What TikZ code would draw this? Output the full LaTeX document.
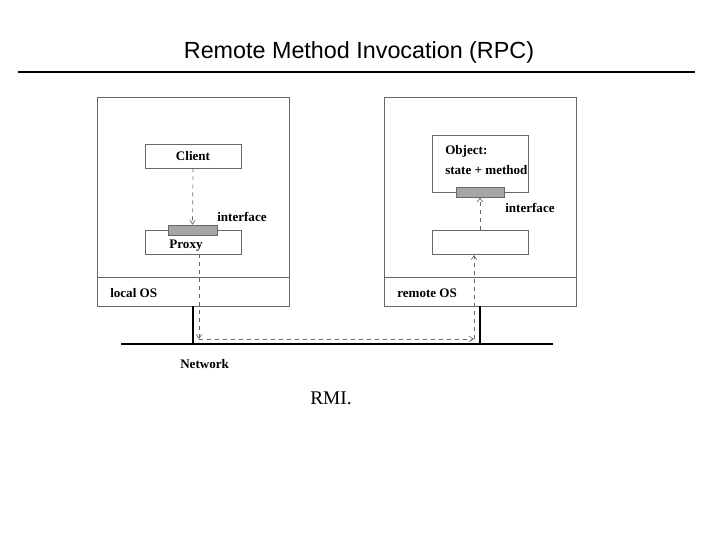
\documentclass[tikz,border=0pt]{standalone}
\usepackage{fontspec}
\setmainfont{Liberation Serif}
\setsansfont{Liberation Sans}
\usetikzlibrary{arrows.meta}
\begin{document}
\begin{tikzpicture}[x=0.75pt,y=-0.75pt,
  box/.style={draw=black!60,line width=0.6pt},
  lbl/.style={inner sep=0pt,font=\fontsize{9.8}{11}\selectfont\bfseries,anchor=west},
  bar/.style={draw=black!60,fill=black!35,line width=0.5pt},
  dsh/.style={draw=black!60,dashed,line width=0.5pt},
  arr/.style={-{Straight Barb[length=3pt,width=4pt]}}]
\useasboundingbox (0,0) rectangle (720,540);
\node[font=\sffamily\fontsize{17.5}{20}\selectfont] (title) at (359,52) {Remote Method Invocation (RPC)};
\draw[line width=2.2pt] (18,72) -- (695,72);
% machines
\draw[box] (97,97) rectangle (289,306);
\draw[box] (97,277) -- (289,277);
\draw[box] (384,97) rectangle (576,306);
\draw[box] (384,277) -- (576,277);
\node[lbl] (los) at (110,293) {local OS};
\node[lbl] (ros) at (397,293) {remote OS};
% client side
\node[box,minimum width=72pt,minimum height=18pt,inner sep=0pt] (client) at (193,156) {};
\node[lbl,anchor=center] at (193,156) {Client};
\node[box,minimum width=72pt,minimum height=18pt,inner sep=0pt] (proxy) at (193,242) {};
\node[lbl,anchor=center] at (186,246) {Proxy};
\node[bar,minimum width=36.5pt,minimum height=7.5pt,inner sep=0pt] (pbar) at (192.5,230) {};
\node[lbl] (if1) at (217,217) {interface};
\draw[dsh,arr] (client.south) -- (pbar.north);
% server side
\draw[box] (432,135) rectangle (528,192);
\node[lbl] (obj) at (445,151) {Object:};
\node[lbl] (sm) at (445,170) {state + method};
\node[bar,minimum width=36pt,minimum height=7.5pt,inner sep=0pt] (sbar) at (480,192) {};
\node[box,minimum width=72pt,minimum height=18pt,inner sep=0pt] (skel) at (480,242) {};
\node[lbl] (if2) at (505,208) {interface};
\draw[dsh,arr] (skel.north) -- (sbar.south);
% network
\draw[line width=1pt] (121,344) -- (553,344);
\draw[line width=1.8pt] (193,306) -- (193,344);
\draw[line width=1.8pt] (480,306) -- (480,344);
\node[lbl] (net) at (180,364) {Network};
\coordinate (c1) at (199,339);
\coordinate (c2) at (474,339);
\draw[dsh,arr] (199,254) -- (c1);
\draw[dsh,arr] (c1) -- (c2);
\draw[dsh,arr] (c2) -- (474,255);
\node[font=\fontsize{14.5}{16}\selectfont] (rmi) at (331,398) {RMI.};
\end{tikzpicture}
\end{document}
